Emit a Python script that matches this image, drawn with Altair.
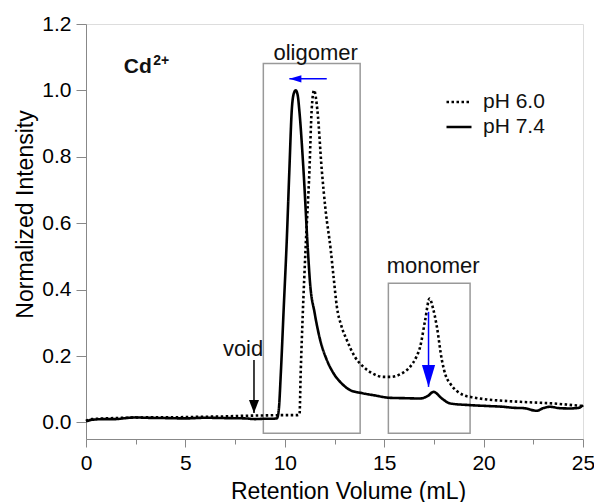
import altair as alt
import pandas as pd

FONT = "Liberation Sans"

# ---- curve data ----
vol_60 = [0, 0.3, 1, 2, 3, 4, 5, 6, 7, 8, 9, 10, 10.6, 10.74, 10.8, 10.9, 11.05,
          11.24, 11.35, 11.47, 11.64, 11.86, 12.05, 12.31, 12.45, 12.62, 12.85, 13.12,
          13.5, 13.96, 14.4, 14.96, 15.3, 15.8, 16.31, 16.6, 16.81, 17.06, 17.28, 17.45,
          17.65, 17.9, 18.1, 18.32, 18.99, 19.5, 20.17, 21, 21.84, 22.5, 23.52, 24.3, 25]
int_60 = [0.005, 0.01, 0.012, 0.014, 0.015, 0.015, 0.016, 0.017, 0.018, 0.02, 0.021, 0.022,
          0.022, 0.024, 0.15, 0.32, 0.53, 0.76, 0.94, 1.0, 0.94, 0.76, 0.64, 0.52, 0.44,
          0.348, 0.29, 0.248, 0.2, 0.167, 0.148, 0.137, 0.137, 0.145, 0.168, 0.195, 0.228,
          0.308, 0.373, 0.345, 0.288, 0.188, 0.14, 0.117, 0.082, 0.075, 0.069, 0.065,
          0.062, 0.06, 0.057, 0.053, 0.049]

vol_74 = [0, 0.3, 1, 1.5, 2, 2.5, 3, 4, 5, 6, 7, 8, 8.5, 9, 9.3, 9.6, 9.7, 9.8, 9.95,
          10.1, 10.23, 10.35, 10.45, 10.55, 10.65, 10.73, 10.94, 11.16, 11.27, 11.5, 11.78,
          12.1, 12.45, 12.9, 13.29, 13.9, 14.46, 15.3, 16, 16.8, 17.2, 17.48, 17.9, 18.32,
          19.33, 20.33, 21, 21.5, 22, 22.68, 23, 23.35, 23.8, 24.36, 24.8, 25]
int_74 = [0.003, 0.008, 0.01, 0.01, 0.013, 0.015, 0.014, 0.013, 0.012, 0.014, 0.013, 0.012,
          0.01, 0.011, 0.011, 0.012, 0.04, 0.148, 0.35, 0.55, 0.76, 0.94, 0.99, 1.0, 0.985,
          0.94, 0.76, 0.52, 0.42, 0.33, 0.248, 0.19, 0.148, 0.115, 0.097, 0.088, 0.082,
          0.074, 0.073, 0.072, 0.08, 0.092, 0.072, 0.057, 0.052, 0.049, 0.047, 0.044, 0.043,
          0.035, 0.043, 0.047, 0.043, 0.042, 0.044, 0.052]

series_names = ["pH 6.0", "pH 7.4"]

# ---- annotations ----
box_names = ["oligomer", "monomer"]
box_x1 = [8.92, 15.21]
box_x2 = [13.79, 19.32]
box_y1 = [-0.033, -0.033]
box_y2 = [1.081, 0.419]

label_text = ["oligomer", "monomer", "void"]
label_x = [11.55, 17.46, 7.9]
label_y = [1.091, 0.45, 0.2]

ion_text = ["Cd", "2+"]
ion_x = [1.9, 3.38]
ion_y = [1.051, 1.077]

# arrows: start -> tip
arrow_names = ["shift", "drop", "void"]
arrow_x1 = [12.11, 17.23, 8.45]
arrow_y1 = [1.035, 0.333, 0.188]
arrow_x2 = [10.23, 17.23, 8.45]
arrow_y2 = [1.035, 0.107, 0.028]
arrow_color = ["#0000ff", "#0000ff", "#000000"]

x_ticks = [i * 2.5 for i in range(11)]
y_ticks = [round(i * 0.1, 1) for i in range(13)]

# ---- tables ----
curves = pd.DataFrame({
    "vol": vol_60 + vol_74,
    "intensity": int_60 + int_74,
    "series": [series_names[0]] * len(vol_60) + [series_names[1]] * len(vol_74),
})
boxes = pd.DataFrame({"name": box_names, "x1": box_x1, "x2": box_x2, "y1": box_y1, "y2": box_y2})
labels = pd.DataFrame({"text": label_text, "x": label_x, "y": label_y})
ion = pd.DataFrame({"text": ion_text, "x": ion_x, "y": ion_y})
arrows = pd.DataFrame({"name": arrow_names, "x1": arrow_x1, "y1": arrow_y1,
                       "x2": arrow_x2, "y2": arrow_y2, "c": arrow_color})

xs = alt.Scale(domain=[0, 25], nice=False, zero=False)
ys = alt.Scale(domain=[-0.05, 1.2], nice=False, zero=False)

x_axis = alt.Axis(
    values=x_ticks, title="Retention Volume (mL)",
    labelExpr="datum.value % 5 == 0 ? format(datum.value, 'd') : ''",
    tickSize={"condition": {"test": "datum.value % 5 == 0", "value": 8}, "value": 5},
    labelFontSize=21, labelPadding=5, titleFontSize=23, titleFontWeight="normal",
    titleX=262, titleY=59, titleBaseline="alphabetic", titleAnchor="middle",
    grid=False, labelFlush=False,
)
y_axis = alt.Axis(
    values=y_ticks, title="Normalized Intensity",
    labelExpr="round(datum.value*10) % 2 == 0 ? format(datum.value, '.1f') : ''",
    tickSize={"condition": {"test": "round(datum.value*10) % 2 == 0", "value": 10}, "value": 6},
    labelFontSize=21, labelPadding=5, titleFontSize=23, titleFontWeight="normal",
    titleX=-54, titleY=190, titleBaseline="alphabetic", titleAngle=270,
    grid=False, labelFlush=False,
)

lines = alt.Chart(curves).mark_line(color="black", strokeWidth=2.6, interpolate="monotone").encode(
    x=alt.X("vol:Q", scale=xs, axis=x_axis),
    y=alt.Y("intensity:Q", scale=ys, axis=y_axis),
    strokeDash=alt.StrokeDash(
        "series:N",
        scale=alt.Scale(domain=series_names, range=[[2.5, 2.5], [1, 0]]),
        legend=alt.Legend(
            orient="none", legendX=359, legendY=64, title=None,
            symbolType="stroke", symbolSize=625, symbolStrokeWidth=2.5,
            symbolStrokeColor="black", labelFontSize=21, labelFont=FONT,
            labelOffset=10, rowPadding=1, padding=0, labelColor="#111111",
        ),
    ),
    order=alt.Order("vol:Q"),
)

box_layer = alt.Chart(boxes).mark_rect(fill=None, fillOpacity=0, stroke="#999999", strokeWidth=1.5).encode(
    x=alt.X("x1:Q", scale=xs), x2="x2:Q",
    y=alt.Y("y1:Q", scale=ys), y2="y2:Q",
)

shafts = alt.Chart(arrows).mark_rule(strokeWidth=1.5).encode(
    x=alt.X("x1:Q", scale=xs), x2="x2:Q",
    y=alt.Y("y1:Q", scale=ys), y2="y2:Q",
    color=alt.Color("c:N", scale=None),
)

head_left = alt.Chart(arrows).transform_filter("datum.name == 'shift'").mark_point(
    shape="M0,0 L2,-0.6 L2,0.6 Z", size=144, filled=True, opacity=1, color="#0000ff"
).encode(x=alt.X("x2:Q", scale=xs), y=alt.Y("y2:Q", scale=ys))

head_drop = alt.Chart(arrows).transform_filter("datum.name == 'drop'").mark_point(
    shape="M0,0 L-0.6,-2 L0.6,-2 Z", size=484, filled=True, opacity=1, color="#0000ff"
).encode(x=alt.X("x2:Q", scale=xs), y=alt.Y("y2:Q", scale=ys))

head_void = alt.Chart(arrows).transform_filter("datum.name == 'void'").mark_point(
    shape="M0,0 L-0.77,-2 L0.77,-2 Z", size=169, filled=True, opacity=1, color="#000000"
).encode(x=alt.X("x2:Q", scale=xs), y=alt.Y("y2:Q", scale=ys))

label_layer = alt.Chart(labels).mark_text(
    font=FONT, fontSize=22, align="center", baseline="alphabetic", color="#111111"
).encode(x=alt.X("x:Q", scale=xs), y=alt.Y("y:Q", scale=ys), text="text:N")

ion_main = alt.Chart(ion).transform_filter("datum.text == 'Cd'").mark_text(
    font=FONT, fontSize=21, fontWeight="bold", align="left", baseline="alphabetic", color="#111111"
).encode(x=alt.X("x:Q", scale=xs), y=alt.Y("y:Q", scale=ys), text="text:N")

ion_sup = alt.Chart(ion).transform_filter("datum.text == '2+'").mark_text(
    font=FONT, fontSize=14, fontWeight="bold", align="left", baseline="alphabetic", color="#111111"
).encode(x=alt.X("x:Q", scale=xs), y=alt.Y("y:Q", scale=ys), text="text:N")

chart = alt.layer(
    box_layer, lines, shafts, head_left, head_drop, head_void, label_layer, ion_main, ion_sup
).properties(
    width=497, height=415,
    padding={"left": 86, "top": 24, "right": 11, "bottom": 63},
    autosize=alt.AutoSizeParams(type="none"),
).configure_view(
    stroke="#222222", strokeWidth=1.5
).configure_axis(
    domainColor="#222222", domainWidth=1.5, tickColor="#222222", tickWidth=1.5,
    labelColor="#111111", titleColor="#111111", labelFont=FONT, titleFont=FONT,
).configure(background="white")

chart.save("out.html", embed_options={"renderer": "svg", "actions": False})
